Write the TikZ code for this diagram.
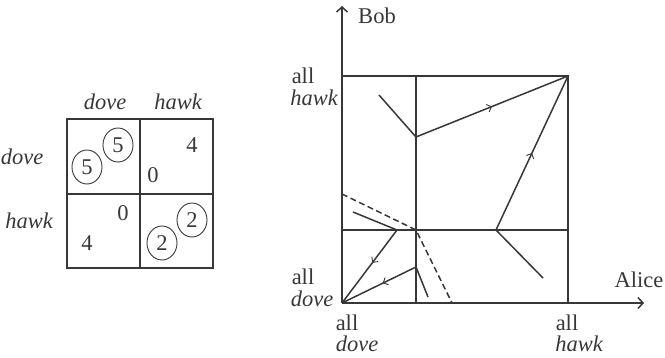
\documentclass[tikz,border=0pt]{standalone}
\usepackage{fontspec}
\setmainfont{Liberation Serif}
\usetikzlibrary{shapes.geometric,decorations.markings,arrows.meta}
\definecolor{ink}{RGB}{55,55,55}
\begin{document}
\begin{tikzpicture}[x=1pt,y=-1pt,
  every node/.style={font=\fontsize{22.5}{24}\selectfont, text=ink, inner sep=0pt},
  lbl/.style={font=\fontsize{22.5}{24}\selectfont\itshape},
  grid/.style={draw=ink, line width=1.5pt},
  box/.style={draw=ink, line width=2.3pt},
  path/.style={draw=ink, line width=1.5pt},
  dashpath/.style={draw=ink, line width=1.5pt, dashed, dash pattern=on 6pt off 3.5pt},
  circ/.style={draw=ink, ellipse, line width=0.9pt, minimum width=30pt, minimum height=34pt},
  midarrow/.style={postaction={decorate}, decoration={markings, mark=at position #1 with {\arrow[ink, line width=0.9pt]{Straight Barb[length=4pt,width=8pt]}}}},
  axis/.style={draw=ink, line width=1.5pt, -{Straight Barb[length=5pt,width=11pt,line width=1.5pt]}}
]
\useasboundingbox (0,0) rectangle (665,357);
% ---------- payoff matrix ----------
\coordinate (mTL) at (67,119);
\coordinate (mBR) at (213,268);
\draw[box] (mTL) rectangle (mBR);
\coordinate (mT) at (140,119); \coordinate (mB) at (140,268);
\coordinate (mL) at (67,194);  \coordinate (mR) at (213,194);
\draw[box] (mT) -- (mB);
\draw[box] (mL) -- (mR);
\node[lbl] (cdove) at (105,102) {dove};
\node[lbl] (chawk) at (178,102) {hawk};
\node[lbl] (rdove) at (22,157) {dove};
\node[lbl] (rhawk) at (29,221) {hawk};
\node[circ] (c5a) at (118,145) {5};
\node[circ] (c5b) at (87,167) {5};
\node (n4a) at (192,145) {4};
\node (n0a) at (153,175) {0};
\node (n0b) at (123,213) {0};
\node (n4b) at (87,243) {4};
\node[circ] (c2a) at (192,220) {2};
\node[circ] (c2b) at (162,243) {2};
% ---------- phase diagram ----------
\coordinate (O) at (342,303);
\coordinate (TL) at (342,76);
\coordinate (TR) at (568,76);
\coordinate (BR) at (568,303);
\coordinate (VT) at (416,76);
\coordinate (VB) at (416,303);
\coordinate (HL) at (342,230);
\coordinate (HR) at (568,230);
\coordinate (ytip) at (342,6);
\coordinate (xtip) at (644,303);
\draw[axis] (O) -- (ytip);
\draw[axis] (O) -- (xtip);
\draw[grid] (TL) -- (TR) -- (BR);
\draw[grid] (VT) -- (VB);
\draw[grid] (HL) -- (HR);
\node (bob) at (377,16) {Bob};
\node (alice) at (639,280) {Alice};
\node (lhall) at (303,76) {all};
\node[lbl] (lhhawk) at (314,98) {hawk};
\node (ldall) at (303,277) {all};
\node[lbl] (lddove) at (312,299) {dove};
\node (bdall) at (347,323) {all};
\node[lbl] (bddove) at (357,344) {dove};
\node (bhall) at (567,323) {all};
\node[lbl] (bhhawk) at (579,344) {hawk};
% trajectories
\coordinate (p1) at (379,95);
\coordinate (p2) at (416,137);
\coordinate (p3) at (496,230);
\coordinate (p4) at (543,278);
\coordinate (p5) at (397,230);
\coordinate (p6) at (353,212);
\coordinate (p7) at (416,267);
\coordinate (p8) at (428,297);
\coordinate (d1) at (342,194);
\coordinate (d2) at (416,230);
\coordinate (d3) at (452,303);
\draw[path] (p1) -- (p2);
\draw[path, midarrow=0.5] (p2) -- (TR);
\draw[path, midarrow=0.5] (p3) -- (TR);
\draw[path] (p3) -- (p4);
\draw[path] (p6) -- (p5);
\draw[path, midarrow=0.45] (p5) -- (O);
\draw[path, midarrow=0.45] (p7) -- (O);
\draw[path] (p7) -- (p8);
\draw[dashpath] (d1) -- (d2) -- (d3);
\end{tikzpicture}
\end{document}
